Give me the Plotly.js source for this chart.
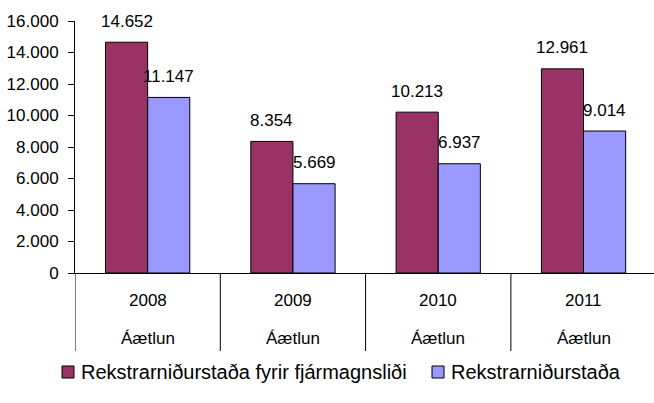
<!DOCTYPE html>
<html>
<head>
<meta charset="utf-8">
<script src="https://cdn.plot.ly/plotly-3.0.1.min.js"></script>
<style>
html,body{margin:0;padding:0;overflow:hidden;background:#fff;}
#chart{width:654px;height:403px;}
</style>
</head>
<body>
<div id="chart"></div>
<script>
const years = ["2008", "2009", "2010", "2011"];
const subLabel = "Áætlun";
const seriesNames = ["Rekstrarniðurstaða fyrir fjármagnsliði", "Rekstrarniðurstaða"];
const seriesColors = ["#993366", "#9999FF"];
const seriesA = [14652, 8354, 10213, 12961];
const seriesB = [11147, 5669, 6937, 9014];
const labelsA = ["14.652", "8.354", "10.213", "12.961"];
const labelsB = ["11.147", "5.669", "6.937", "9.014"];
const yTicks = [0, 2000, 4000, 6000, 8000, 10000, 12000, 14000, 16000];

const idx = years.map((_, i) => i);
const FONT = "Liberation Sans, Arial, sans-serif";
const NUMSIZE = 17;

const traces = [
  {type: "bar", name: seriesNames[0], x: idx, y: seriesA, showlegend: false,
   marker: {color: seriesColors[0], line: {color: "#000", width: 1}}, hoverinfo: "y"},
  {type: "bar", name: seriesNames[1], x: idx, y: seriesB, showlegend: false,
   marker: {color: seriesColors[1], line: {color: "#000", width: 1}}, hoverinfo: "y"}
];

// plot area geometry (pixels) used to place the hand-drawn legend
const L = 75, W = 579, B = 273, H = 252;
const px = v => (v - L) / W;
const py = v => (B - v) / H;

const off = 0.145;
const annotations = [];
idx.forEach(i => {
  annotations.push({x: i - off, y: seriesA[i], xref: "x", yref: "y", text: labelsA[i],
    showarrow: false, yanchor: "middle", yshift: 21, font: {size: NUMSIZE, color: "#000", family: FONT}});
  annotations.push({x: i + off, y: seriesB[i], xref: "x", yref: "y", text: labelsB[i],
    showarrow: false, yanchor: "middle", yshift: 21, font: {size: NUMSIZE, color: "#000", family: FONT}});
  annotations.push({x: i, y: py(300), xref: "x", yref: "paper", text: years[i],
    showarrow: false, yanchor: "middle", font: {size: NUMSIZE, color: "#000", family: FONT}});
  annotations.push({x: i, y: py(338), xref: "x", yref: "paper", text: subLabel,
    showarrow: false, yanchor: "middle", font: {size: NUMSIZE, color: "#000", family: FONT}});
});

const shapes = [-0.5, 0.5, 1.5, 2.5].map(v => ({
  type: "line", xref: "x", yref: "paper", x0: v, x1: v, y0: 0, y1: py(351),
  line: {color: "#000", width: 1}
}));

// legend
const legendSquares = [62, 432];
const legendTexts = [79, 449];
const legendY = 372;
seriesNames.forEach((name, k) => {
  shapes.push({type: "rect", xref: "paper", yref: "paper",
    x0: px(legendSquares[k]), x1: px(legendSquares[k] + 12),
    y0: py(legendY - 6), y1: py(legendY + 6),
    fillcolor: seriesColors[k], line: {color: "#000", width: 1}});
  annotations.push({x: px(legendTexts[k]), y: py(legendY), xref: "paper", yref: "paper",
    text: name, showarrow: false, xanchor: "left", yanchor: "middle",
    font: {size: 20, color: "#000", family: FONT}});
});

const layout = {
  width: 654, height: 403,
  margin: {l: L, r: 0, t: 21, b: 130, pad: 0},
  paper_bgcolor: "#fff", plot_bgcolor: "#fff",
  separators: ",.",
  barmode: "group", bargap: 0.42, bargroupgap: 0,
  font: {family: FONT, size: NUMSIZE, color: "#000"},
  xaxis: {range: [-0.5, 3.485], showticklabels: false, ticks: "", showgrid: false,
          zeroline: false, showline: true, linecolor: "#000", linewidth: 1, fixedrange: true},
  yaxis: {range: [0, 16000], tickvals: yTicks, tickformat: ",.0f", ticks: "outside", ticklen: 6,
          tickcolor: "#000", showgrid: false, zeroline: false, showline: true, linecolor: "#000",
          linewidth: 1, ticklabelstandoff: 6, tickfont: {size: NUMSIZE, family: FONT, color: "#000"}, fixedrange: true},
  showlegend: false,
  annotations: annotations,
  shapes: shapes
};

Plotly.newPlot("chart", traces, layout, {displayModeBar: false, staticPlot: true});
</script>
</body>
</html>
